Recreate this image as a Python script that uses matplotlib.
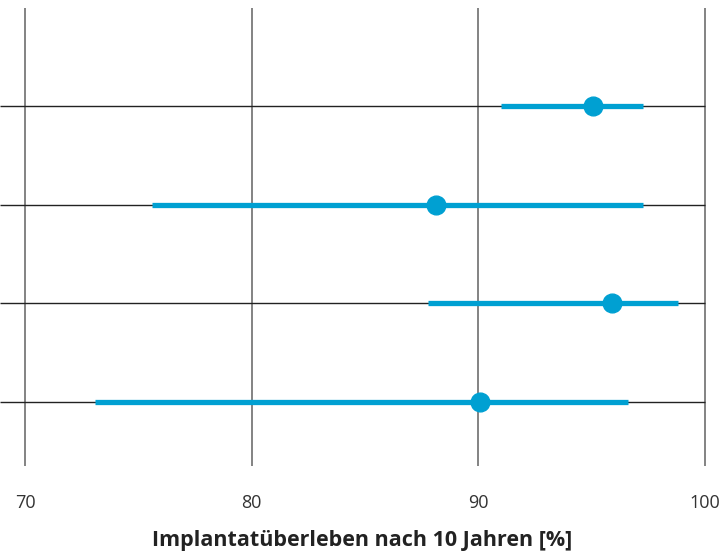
import numpy as np
import matplotlib.pyplot as plt

plt.rcParams['font.family'] = ['Open Sans', 'DejaVu Sans']

# survival estimate with lower / upper confidence bound, top row first
rows = [1, 2, 3, 4]
estimate = [95.06, 88.13, 95.89, 90.07]
ci_low = [91.0, 75.6, 87.76, 73.09]
ci_high = [97.26, 97.27, 98.79, 96.59]
ticks = [70, 80, 90, 100]

blue = '#00a0d2'

fig = plt.figure(figsize=(7.24, 5.52), dpi=100)
ax = fig.add_axes([0, 0.1558, 1, 0.8297])

x_left, x_right = 68.897, 100.838
ax.set_xlim(x_left, x_right)
ax.set_ylim(4.653, 0)

for t in ticks:
    ax.axvline(t, color='#7a7a7a', lw=1.3, zorder=1)
ax.hlines(rows, x_left, 100, color='#222222', lw=1.0, zorder=1)

ax.hlines(rows, ci_low, ci_high, color=blue, lw=3.8, zorder=2)
ax.plot(estimate, rows, 'o', color=blue, ms=13.5, zorder=3)

for s in ax.spines.values():
    s.set_visible(False)
ax.set_yticks([])
ax.set_xticks(ticks)
ax.set_xticklabels([str(t) for t in ticks])
ax.tick_params(axis='x', length=0, pad=20.5, labelsize=13, labelcolor='#333333')

ax.set_xlabel('Implantatüberleben nach 10 Jahren [%]', fontsize=15.5,
              fontweight='bold', color='#222222', labelpad=12.5)

fig.savefig('out.png', dpi=100)
